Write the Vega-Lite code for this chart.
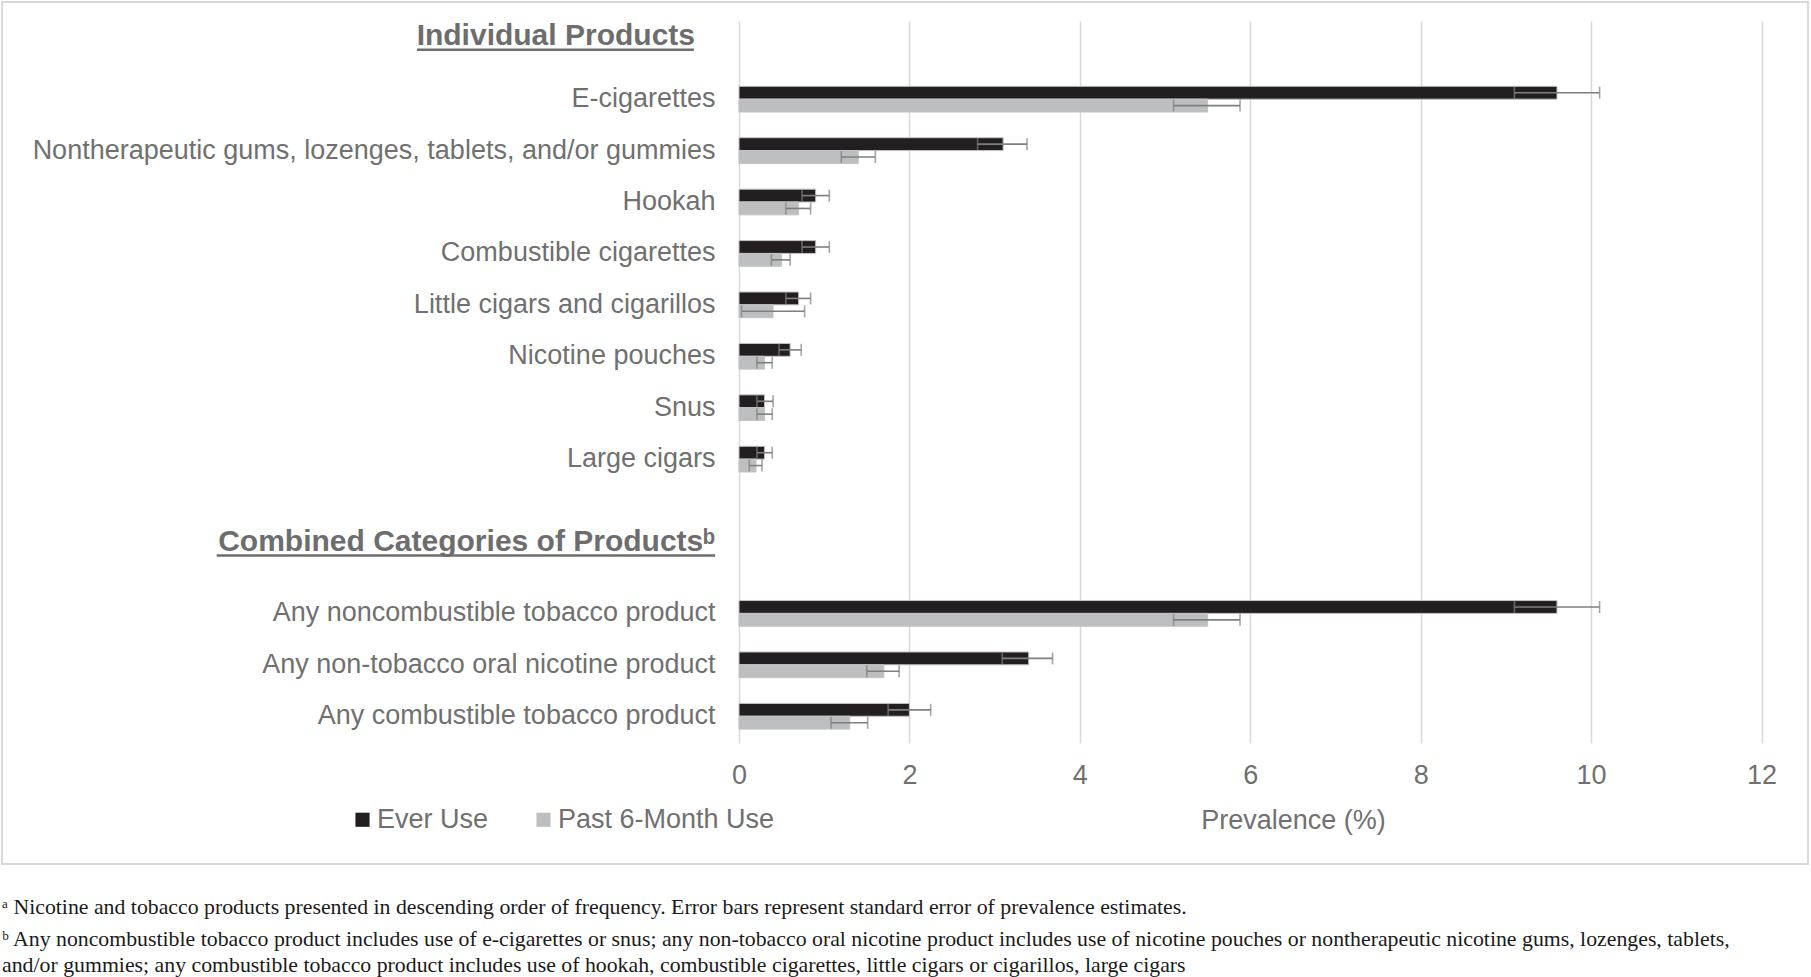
{
  "$schema": "https://vega.github.io/schema/vega-lite/v6.json",
  "width": 1806,
  "height": 862,
  "padding": {"left": 2, "top": 2, "right": 2, "bottom": 0},
  "background": "#ffffff",
  "config": {
    "font": "Liberation Sans",
    "view": {"stroke": "#d9d9d9", "strokeWidth": 2},
    "legend": {
      "orient": "none",
      "legendX": 347,
      "legendY": 804,
      "direction": "horizontal",
      "symbolType": "square",
      "symbolSize": 200,
      "symbolStrokeWidth": 0,
      "labelFontSize": 27,
      "labelColor": "#707070",
      "labelFont": "Liberation Sans",
      "labelOffset": 1,
      "labelLimit": 0,
      "columnPadding": 41,
      "title": null
    }
  },
  "title": {
    "text": "ᵃ Nicotine and tobacco products presented in descending order of frequency. Error bars represent standard error of prevalence estimates.",
    "subtitle": [
      "ᵇ Any noncombustible tobacco product includes use of e-cigarettes or snus; any non-tobacco oral nicotine product includes use of nicotine pouches or nontherapeutic nicotine gums, lozenges, tablets,",
      "and/or gummies; any combustible tobacco product includes use of hookah, combustible cigarettes, little cigars or cigarillos, large cigars"
    ],
    "orient": "bottom",
    "anchor": "start",
    "offset": 33,
    "font": "Liberation Serif",
    "fontSize": 21.8,
    "fontWeight": "normal",
    "color": "#1a1a1a",
    "subtitleFont": "Liberation Serif",
    "subtitleFontSize": 21.8,
    "subtitleColor": "#1a1a1a",
    "subtitleLineHeight": 26,
    "subtitlePadding": 10
  },
  "data": {
    "values": [
      {"category": "E-cigarettes", "series": "Ever Use", "value": 9.6, "lo": 9.1, "hi": 10.1},
      {"category": "E-cigarettes", "series": "Past 6-Month Use", "value": 5.5, "lo": 5.1, "hi": 5.88},
      {"category": "Nontherapeutic gums, lozenges, tablets, and/or gummies", "series": "Ever Use", "value": 3.1, "lo": 2.8, "hi": 3.38},
      {"category": "Nontherapeutic gums, lozenges, tablets, and/or gummies", "series": "Past 6-Month Use", "value": 1.4, "lo": 1.2, "hi": 1.6},
      {"category": "Hookah", "series": "Ever Use", "value": 0.9, "lo": 0.74, "hi": 1.06},
      {"category": "Hookah", "series": "Past 6-Month Use", "value": 0.7, "lo": 0.55, "hi": 0.84},
      {"category": "Combustible cigarettes", "series": "Ever Use", "value": 0.9, "lo": 0.74, "hi": 1.06},
      {"category": "Combustible cigarettes", "series": "Past 6-Month Use", "value": 0.5, "lo": 0.38, "hi": 0.6},
      {"category": "Little cigars and cigarillos", "series": "Ever Use", "value": 0.7, "lo": 0.55, "hi": 0.84},
      {"category": "Little cigars and cigarillos", "series": "Past 6-Month Use", "value": 0.4, "lo": 0.03, "hi": 0.77},
      {"category": "Nicotine pouches", "series": "Ever Use", "value": 0.6, "lo": 0.47, "hi": 0.73},
      {"category": "Nicotine pouches", "series": "Past 6-Month Use", "value": 0.3, "lo": 0.21, "hi": 0.39},
      {"category": "Snus", "series": "Ever Use", "value": 0.3, "lo": 0.21, "hi": 0.4},
      {"category": "Snus", "series": "Past 6-Month Use", "value": 0.3, "lo": 0.21, "hi": 0.39},
      {"category": "Large cigars", "series": "Ever Use", "value": 0.3, "lo": 0.21, "hi": 0.39},
      {"category": "Large cigars", "series": "Past 6-Month Use", "value": 0.2, "lo": 0.12, "hi": 0.27},
      {"category": "Any noncombustible tobacco product", "series": "Ever Use", "value": 9.6, "lo": 9.1, "hi": 10.1},
      {"category": "Any noncombustible tobacco product", "series": "Past 6-Month Use", "value": 5.5, "lo": 5.1, "hi": 5.88},
      {"category": "Any non-tobacco oral nicotine product", "series": "Ever Use", "value": 3.4, "lo": 3.09, "hi": 3.68},
      {"category": "Any non-tobacco oral nicotine product", "series": "Past 6-Month Use", "value": 1.7, "lo": 1.5, "hi": 1.88},
      {"category": "Any combustible tobacco product", "series": "Ever Use", "value": 2.0, "lo": 1.75, "hi": 2.25},
      {"category": "Any combustible tobacco product", "series": "Past 6-Month Use", "value": 1.3, "lo": 1.08, "hi": 1.51}
    ]
  },
  "layer": [
    {
      "mark": {"type": "bar", "stroke": "#c4c4c4", "strokeWidth": 1},
      "encoding": {
        "y": {
          "field": "category",
          "type": "nominal",
          "sort": null,
          "scale": {
            "domain": ["__h1", "E-cigarettes", "Nontherapeutic gums, lozenges, tablets, and/or gummies", "Hookah", "Combustible cigarettes", "Little cigars and cigarillos", "Nicotine pouches", "Snus", "Large cigars", "__b1", "__b2", "Any noncombustible tobacco product", "Any non-tobacco oral nicotine product", "Any combustible tobacco product"],
            "range": [19, 741],
            "paddingInner": 0,
            "paddingOuter": 0.02
          },
          "axis": {
            "title": null,
            "domain": false,
            "ticks": false,
            "grid": false,
            "offset": -737,
            "labelFontSize": 27,
            "labelColor": "#707070",
            "labelFont": "Liberation Sans",
            "labelPadding": 24,
            "labelLimit": 0,
            "labelExpr": "indexof(datum.value, '__') == 0 ? '' : datum.value"
          }
        },
        "x": {
          "field": "value",
          "type": "quantitative",
          "scale": {"domain": [0, 12], "range": [737, 1759.5], "nice": false, "zero": true},
          "axis": {
            "orient": "top",
            "title": "Prevalence (%)",
            "values": [0, 2, 4, 6, 8, 10, 12],
            "format": "d",
            "grid": true,
            "gridColor": "#d9d9d9",
            "gridWidth": 1.5,
            "domain": false,
            "ticks": false,
            "offset": -787,
            "labelFontSize": 27,
            "labelColor": "#707070",
            "labelFont": "Liberation Sans",
            "labelPadding": 0,
            "labelBaseline": "bottom",
            "labelFlush": false,
            "labelOverlap": false,
            "titleFontSize": 27,
            "titleFontWeight": "normal",
            "titleColor": "#707070",
            "titleFont": "Liberation Sans",
            "titleX": 1291,
            "titleY": 31,
            "titleBaseline": "middle",
            "titleAlign": "center"
          }
        },
        "yOffset": {
          "field": "series",
          "type": "nominal",
          "scale": {"domain": ["Ever Use", "Past 6-Month Use"], "paddingInner": 0, "paddingOuter": 1}
        },
        "color": {
          "field": "series",
          "type": "nominal",
          "scale": {"domain": ["Ever Use", "Past 6-Month Use"], "range": ["#231f20", "#bcbec0"]},
          "legend": {"title": null}
        }
      }
    },
    {
      "mark": {"type": "rule", "color": "#7f7f7f", "strokeWidth": 1.6},
      "encoding": {
        "y": {"field": "category", "type": "nominal", "sort": null},
        "yOffset": {"field": "series", "type": "nominal"},
        "x": {"field": "lo", "type": "quantitative", "title": "Prevalence (%)"},
        "x2": {"field": "hi"}
      }
    },
    {
      "mark": {"type": "tick", "color": "#7f7f7f", "thickness": 1.6, "size": 12, "orient": "vertical"},
      "encoding": {
        "y": {"field": "category", "type": "nominal", "sort": null},
        "yOffset": {"field": "series", "type": "nominal"},
        "x": {"field": "lo", "type": "quantitative", "title": "Prevalence (%)"}
      }
    },
    {
      "mark": {"type": "tick", "color": "#7f7f7f", "thickness": 1.6, "size": 12, "orient": "vertical"},
      "encoding": {
        "y": {"field": "category", "type": "nominal", "sort": null},
        "yOffset": {"field": "series", "type": "nominal"},
        "x": {"field": "hi", "type": "quantitative", "title": "Prevalence (%)"}
      }
    },
    {
      "data": {"values": [{"slot": "__h1", "heading": "Individual Products"}]},
      "mark": {"type": "text", "align": "right", "baseline": "middle", "dx": -44, "dy": -12, "fontSize": 30, "fontWeight": "bold", "font": "Liberation Sans", "color": "#6d6d6d"},
      "encoding": {
        "y": {"field": "slot", "type": "nominal"},
        "x": {"datum": 0, "type": "quantitative"},
        "text": {"field": "heading"}
      }
    },
    {
      "data": {"values": [{"slot": "__b1", "heading": "Combined Categories of Productsᵇ"}]},
      "mark": {"type": "text", "align": "right", "baseline": "middle", "dx": -24, "dy": 31, "fontSize": 30, "fontWeight": "bold", "font": "Liberation Sans", "color": "#6d6d6d"},
      "encoding": {
        "y": {"field": "slot", "type": "nominal"},
        "x": {"datum": 0, "type": "quantitative"},
        "text": {"field": "heading"}
      }
    },
    {
      "data": {"values": [{"slot": "__h1"}]},
      "mark": {"type": "rule", "color": "#6d6d6d", "strokeWidth": 2.5, "yOffset": 2},
      "encoding": {
        "y": {"field": "slot", "type": "nominal"},
        "x": {"datum": -3.78, "type": "quantitative"},
        "x2": {"datum": -0.53}
      }
    },
    {
      "data": {"values": [{"slot": "__b1"}]},
      "mark": {"type": "rule", "color": "#6d6d6d", "strokeWidth": 2.5, "yOffset": 45},
      "encoding": {
        "y": {"field": "slot", "type": "nominal"},
        "x": {"datum": -6.13, "type": "quantitative"},
        "x2": {"datum": -0.28}
      }
    }
  ]
}
